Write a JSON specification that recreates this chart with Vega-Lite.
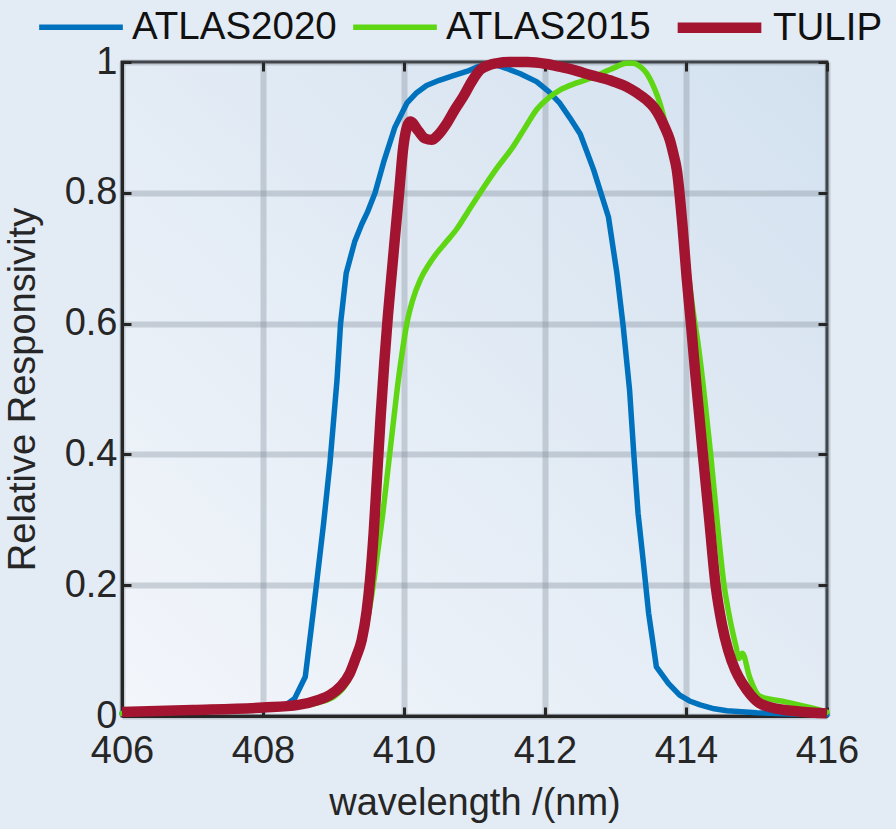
{
  "$schema": "https://vega.github.io/schema/vega-lite/v6.json",
  "width": 705,
  "height": 654,
  "autosize": {"type": "none"},
  "padding": {"left": 122, "top": 62, "right": 69, "bottom": 113},
  "background": "#e3ebf4",
  "config": {
    "font": "Liberation Sans",
    "view": {
      "fill": {"gradient": "linear", "x1": 1, "y1": 0, "x2": 0, "y2": 1,
        "stops": [{"offset": 0, "color": "#d3e1ef"}, {"offset": 1, "color": "#f3f6fb"}]},
      "stroke": "#262626",
      "strokeWidth": 3
    },
    "axis": {
      "labelFontSize": 38,
      "labelColor": "#262626",
      "labelFlush": false,
      "titleFontSize": 38,
      "titleFontWeight": "normal",
      "titleColor": "#262626",
      "domainColor": "#262626",
      "domainWidth": 3,
      "tickColor": "#262626",
      "tickWidth": 3,
      "tickSize": -9,
      "gridColor": "#7a8592",
      "gridOpacity": 0.33,
      "gridWidth": 6
    },
    "legend": {
      "orient": "none",
      "legendX": -86,
      "legendY": -82,
      "direction": "horizontal",
      "symbolType": "stroke",
      "symbolSize": 7000,
      "labelFontSize": 38.5,
      "labelColor": "#111111",
      "labelLimit": 400,
      "columnPadding": 5,
      "labelOffset": 6,
      "title": null
    }
  },
  "datasets": {
    "curves": [
      {"s": "ATLAS2020", "x": 406.0, "y": 0.004},
      {"s": "ATLAS2020", "x": 407.0, "y": 0.006},
      {"s": "ATLAS2020", "x": 408.0, "y": 0.01},
      {"s": "ATLAS2020", "x": 408.3, "y": 0.015},
      {"s": "ATLAS2020", "x": 408.45, "y": 0.027},
      {"s": "ATLAS2020", "x": 408.6, "y": 0.06},
      {"s": "ATLAS2020", "x": 408.71, "y": 0.157},
      {"s": "ATLAS2020", "x": 408.86, "y": 0.295},
      {"s": "ATLAS2020", "x": 408.95, "y": 0.387},
      {"s": "ATLAS2020", "x": 409.01, "y": 0.463},
      {"s": "ATLAS2020", "x": 409.05, "y": 0.514},
      {"s": "ATLAS2020", "x": 409.1, "y": 0.6},
      {"s": "ATLAS2020", "x": 409.18, "y": 0.677},
      {"s": "ATLAS2020", "x": 409.3, "y": 0.725},
      {"s": "ATLAS2020", "x": 409.4, "y": 0.752},
      {"s": "ATLAS2020", "x": 409.48, "y": 0.77},
      {"s": "ATLAS2020", "x": 409.59, "y": 0.8},
      {"s": "ATLAS2020", "x": 409.72, "y": 0.85},
      {"s": "ATLAS2020", "x": 409.87, "y": 0.9},
      {"s": "ATLAS2020", "x": 410.04, "y": 0.937},
      {"s": "ATLAS2020", "x": 410.18, "y": 0.953},
      {"s": "ATLAS2020", "x": 410.32, "y": 0.964},
      {"s": "ATLAS2020", "x": 410.5, "y": 0.972},
      {"s": "ATLAS2020", "x": 410.7, "y": 0.979},
      {"s": "ATLAS2020", "x": 410.9, "y": 0.986},
      {"s": "ATLAS2020", "x": 411.05, "y": 0.993},
      {"s": "ATLAS2020", "x": 411.25, "y": 0.998},
      {"s": "ATLAS2020", "x": 411.46, "y": 0.99},
      {"s": "ATLAS2020", "x": 411.65, "y": 0.982},
      {"s": "ATLAS2020", "x": 411.88, "y": 0.97},
      {"s": "ATLAS2020", "x": 412.05, "y": 0.955},
      {"s": "ATLAS2020", "x": 412.21, "y": 0.937},
      {"s": "ATLAS2020", "x": 412.35, "y": 0.915},
      {"s": "ATLAS2020", "x": 412.5, "y": 0.89},
      {"s": "ATLAS2020", "x": 412.69, "y": 0.835},
      {"s": "ATLAS2020", "x": 412.9, "y": 0.763},
      {"s": "ATLAS2020", "x": 413.02, "y": 0.677},
      {"s": "ATLAS2020", "x": 413.11, "y": 0.595},
      {"s": "ATLAS2020", "x": 413.2, "y": 0.498},
      {"s": "ATLAS2020", "x": 413.26, "y": 0.4},
      {"s": "ATLAS2020", "x": 413.32, "y": 0.31},
      {"s": "ATLAS2020", "x": 413.4, "y": 0.23},
      {"s": "ATLAS2020", "x": 413.47, "y": 0.157},
      {"s": "ATLAS2020", "x": 413.52, "y": 0.12},
      {"s": "ATLAS2020", "x": 413.58, "y": 0.075},
      {"s": "ATLAS2020", "x": 413.75, "y": 0.05},
      {"s": "ATLAS2020", "x": 413.91, "y": 0.032},
      {"s": "ATLAS2020", "x": 414.05, "y": 0.023},
      {"s": "ATLAS2020", "x": 414.2, "y": 0.017},
      {"s": "ATLAS2020", "x": 414.4, "y": 0.011},
      {"s": "ATLAS2020", "x": 414.58, "y": 0.008},
      {"s": "ATLAS2020", "x": 415.0, "y": 0.005},
      {"s": "ATLAS2020", "x": 415.5, "y": 0.003},
      {"s": "ATLAS2020", "x": 416.0, "y": 0.002},

      {"s": "ATLAS2015", "x": 406.0, "y": 0.004},
      {"s": "ATLAS2015", "x": 407.0, "y": 0.007},
      {"s": "ATLAS2015", "x": 408.0, "y": 0.011},
      {"s": "ATLAS2015", "x": 408.5, "y": 0.015},
      {"s": "ATLAS2015", "x": 408.8, "y": 0.021},
      {"s": "ATLAS2015", "x": 409.0, "y": 0.029},
      {"s": "ATLAS2015", "x": 409.2, "y": 0.052},
      {"s": "ATLAS2015", "x": 409.35, "y": 0.09},
      {"s": "ATLAS2015", "x": 409.45, "y": 0.13},
      {"s": "ATLAS2015", "x": 409.55, "y": 0.19},
      {"s": "ATLAS2015", "x": 409.62, "y": 0.245},
      {"s": "ATLAS2015", "x": 409.7, "y": 0.31},
      {"s": "ATLAS2015", "x": 409.78, "y": 0.385},
      {"s": "ATLAS2015", "x": 409.85, "y": 0.45},
      {"s": "ATLAS2015", "x": 409.92, "y": 0.514},
      {"s": "ATLAS2015", "x": 409.98, "y": 0.56},
      {"s": "ATLAS2015", "x": 410.04, "y": 0.6},
      {"s": "ATLAS2015", "x": 410.12, "y": 0.635},
      {"s": "ATLAS2015", "x": 410.23, "y": 0.667},
      {"s": "ATLAS2015", "x": 410.35, "y": 0.69},
      {"s": "ATLAS2015", "x": 410.46, "y": 0.707},
      {"s": "ATLAS2015", "x": 410.6, "y": 0.725},
      {"s": "ATLAS2015", "x": 410.75, "y": 0.745},
      {"s": "ATLAS2015", "x": 410.9, "y": 0.77},
      {"s": "ATLAS2015", "x": 411.08, "y": 0.8},
      {"s": "ATLAS2015", "x": 411.3, "y": 0.835},
      {"s": "ATLAS2015", "x": 411.55, "y": 0.871},
      {"s": "ATLAS2015", "x": 411.72, "y": 0.9},
      {"s": "ATLAS2015", "x": 411.88, "y": 0.927},
      {"s": "ATLAS2015", "x": 412.05, "y": 0.945},
      {"s": "ATLAS2015", "x": 412.21, "y": 0.957},
      {"s": "ATLAS2015", "x": 412.45, "y": 0.968},
      {"s": "ATLAS2015", "x": 412.69, "y": 0.977},
      {"s": "ATLAS2015", "x": 412.85, "y": 0.985},
      {"s": "ATLAS2015", "x": 413.02, "y": 0.993},
      {"s": "ATLAS2015", "x": 413.15, "y": 0.998},
      {"s": "ATLAS2015", "x": 413.25, "y": 0.998},
      {"s": "ATLAS2015", "x": 413.35, "y": 0.993},
      {"s": "ATLAS2015", "x": 413.44, "y": 0.983},
      {"s": "ATLAS2015", "x": 413.55, "y": 0.96},
      {"s": "ATLAS2015", "x": 413.63, "y": 0.937},
      {"s": "ATLAS2015", "x": 413.72, "y": 0.9},
      {"s": "ATLAS2015", "x": 413.8, "y": 0.86},
      {"s": "ATLAS2015", "x": 413.88, "y": 0.81},
      {"s": "ATLAS2015", "x": 413.96, "y": 0.75},
      {"s": "ATLAS2015", "x": 414.03, "y": 0.68},
      {"s": "ATLAS2015", "x": 414.1, "y": 0.62},
      {"s": "ATLAS2015", "x": 414.17, "y": 0.57},
      {"s": "ATLAS2015", "x": 414.25, "y": 0.5},
      {"s": "ATLAS2015", "x": 414.35, "y": 0.4},
      {"s": "ATLAS2015", "x": 414.44, "y": 0.3},
      {"s": "ATLAS2015", "x": 414.54, "y": 0.2},
      {"s": "ATLAS2015", "x": 414.62, "y": 0.15},
      {"s": "ATLAS2015", "x": 414.71, "y": 0.106},
      {"s": "ATLAS2015", "x": 414.75, "y": 0.088},
      {"s": "ATLAS2015", "x": 414.8, "y": 0.096},
      {"s": "ATLAS2015", "x": 414.9, "y": 0.06},
      {"s": "ATLAS2015", "x": 415.05, "y": 0.03},
      {"s": "ATLAS2015", "x": 415.4, "y": 0.022},
      {"s": "ATLAS2015", "x": 415.8, "y": 0.012},
      {"s": "ATLAS2015", "x": 416.0, "y": 0.006},

      {"s": "TULIP", "x": 406.0, "y": 0.006},
      {"s": "TULIP", "x": 407.0, "y": 0.009},
      {"s": "TULIP", "x": 408.0, "y": 0.013},
      {"s": "TULIP", "x": 408.5, "y": 0.017},
      {"s": "TULIP", "x": 408.8, "y": 0.025},
      {"s": "TULIP", "x": 408.95, "y": 0.032},
      {"s": "TULIP", "x": 409.1, "y": 0.045},
      {"s": "TULIP", "x": 409.23, "y": 0.065},
      {"s": "TULIP", "x": 409.32, "y": 0.09},
      {"s": "TULIP", "x": 409.4, "y": 0.116},
      {"s": "TULIP", "x": 409.47, "y": 0.16},
      {"s": "TULIP", "x": 409.52, "y": 0.21},
      {"s": "TULIP", "x": 409.57, "y": 0.28},
      {"s": "TULIP", "x": 409.62, "y": 0.37},
      {"s": "TULIP", "x": 409.67, "y": 0.46},
      {"s": "TULIP", "x": 409.72, "y": 0.54},
      {"s": "TULIP", "x": 409.77, "y": 0.61},
      {"s": "TULIP", "x": 409.82, "y": 0.67},
      {"s": "TULIP", "x": 409.87, "y": 0.73},
      {"s": "TULIP", "x": 409.93, "y": 0.8},
      {"s": "TULIP", "x": 409.99, "y": 0.87},
      {"s": "TULIP", "x": 410.04, "y": 0.9},
      {"s": "TULIP", "x": 410.09, "y": 0.909},
      {"s": "TULIP", "x": 410.2, "y": 0.895},
      {"s": "TULIP", "x": 410.3, "y": 0.883},
      {"s": "TULIP", "x": 410.39, "y": 0.881},
      {"s": "TULIP", "x": 410.48, "y": 0.888},
      {"s": "TULIP", "x": 410.6, "y": 0.905},
      {"s": "TULIP", "x": 410.72, "y": 0.927},
      {"s": "TULIP", "x": 410.84, "y": 0.947},
      {"s": "TULIP", "x": 410.96, "y": 0.97},
      {"s": "TULIP", "x": 411.08, "y": 0.988},
      {"s": "TULIP", "x": 411.2, "y": 0.995},
      {"s": "TULIP", "x": 411.31, "y": 0.998},
      {"s": "TULIP", "x": 411.5, "y": 1.0},
      {"s": "TULIP", "x": 411.75, "y": 1.0},
      {"s": "TULIP", "x": 412.02, "y": 0.997},
      {"s": "TULIP", "x": 412.2, "y": 0.993},
      {"s": "TULIP", "x": 412.4, "y": 0.988},
      {"s": "TULIP", "x": 412.65, "y": 0.98},
      {"s": "TULIP", "x": 412.92, "y": 0.972},
      {"s": "TULIP", "x": 413.16, "y": 0.962},
      {"s": "TULIP", "x": 413.3, "y": 0.953},
      {"s": "TULIP", "x": 413.44, "y": 0.942},
      {"s": "TULIP", "x": 413.55, "y": 0.93},
      {"s": "TULIP", "x": 413.63, "y": 0.916},
      {"s": "TULIP", "x": 413.7, "y": 0.9},
      {"s": "TULIP", "x": 413.77, "y": 0.881},
      {"s": "TULIP", "x": 413.82, "y": 0.86},
      {"s": "TULIP", "x": 413.87, "y": 0.835},
      {"s": "TULIP", "x": 413.95, "y": 0.75},
      {"s": "TULIP", "x": 414.01, "y": 0.67},
      {"s": "TULIP", "x": 414.07, "y": 0.6},
      {"s": "TULIP", "x": 414.14, "y": 0.514},
      {"s": "TULIP", "x": 414.24, "y": 0.4},
      {"s": "TULIP", "x": 414.33, "y": 0.3},
      {"s": "TULIP", "x": 414.42, "y": 0.2},
      {"s": "TULIP", "x": 414.51, "y": 0.14},
      {"s": "TULIP", "x": 414.6, "y": 0.1},
      {"s": "TULIP", "x": 414.7, "y": 0.07},
      {"s": "TULIP", "x": 414.8, "y": 0.05},
      {"s": "TULIP", "x": 414.92, "y": 0.032},
      {"s": "TULIP", "x": 415.05, "y": 0.019},
      {"s": "TULIP", "x": 415.3, "y": 0.011},
      {"s": "TULIP", "x": 415.6, "y": 0.007},
      {"s": "TULIP", "x": 416.0, "y": 0.004}
    ]
  },
  "data": {"name": "curves"},
  "layer": [
    {
      "encoding": {
        "x": {
          "field": "x", "type": "quantitative",
          "scale": {"domain": [406, 416], "nice": false, "zero": false},
          "axis": {"values": [406, 408, 410, 412, 414, 416], "grid": true, "title": "wavelength /(nm)", "labelPadding": 25, "titlePadding": 14}
        },
        "y": {
          "field": "y", "type": "quantitative",
          "scale": {"domain": [0, 1], "nice": false},
          "axis": {"values": [0, 0.2, 0.4, 0.6, 0.8, 1], "format": ".1~f", "grid": true, "title": "Relative Responsivity", "labelPadding": 14, "titlePadding": 22}
        },
        "color": {
          "field": "s", "type": "nominal",
          "scale": {"domain": ["ATLAS2020", "ATLAS2015", "TULIP"], "range": ["#0072bd", "#5ed614", "#a2142f"]}
        },
        "strokeWidth": {
          "field": "s", "type": "ordinal",
          "scale": {"type": "ordinal", "domain": ["ATLAS2020", "ATLAS2015", "TULIP"], "range": [5.5, 5.5, 10.5]}
        }
      },
      "layer": [
        {"transform": [{"filter": "datum.s === 'ATLAS2020'"}], "mark": {"type": "line", "interpolate": "linear", "strokeJoin": "round", "strokeCap": "round"}},
        {"transform": [{"filter": "datum.s === 'ATLAS2015'"}], "mark": {"type": "line", "interpolate": "monotone", "strokeJoin": "round", "strokeCap": "round"}},
        {"transform": [{"filter": "datum.s === 'TULIP'"}], "mark": {"type": "line", "interpolate": "monotone", "strokeJoin": "round", "strokeCap": "butt"}}
      ]
    },
    {
      "mark": {"type": "line", "opacity": 0},
      "encoding": {
        "x": {"field": "x", "type": "quantitative", "axis": {"orient": "top", "values": [406, 408, 410, 412, 414, 416], "labels": false, "domain": false, "grid": false, "title": null}},
        "y": {"field": "y", "type": "quantitative", "axis": {"orient": "right", "values": [0, 0.2, 0.4, 0.6, 0.8, 1], "labels": false, "domain": false, "grid": false, "title": null}}
      }
    }
  ],
  "resolve": {"axis": {"x": "independent", "y": "independent"}}
}
